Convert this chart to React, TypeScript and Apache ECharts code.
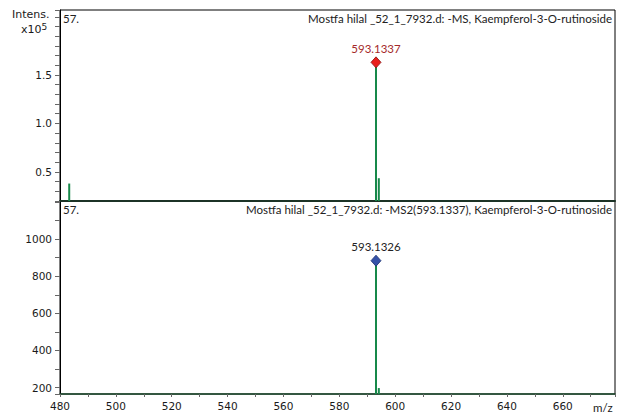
import React, { useEffect, useRef } from "react";
import * as echarts from "echarts";

// Full MS scan (top panel): m/z and intensity of each centroid stick
const msMz = [483.3, 593.1337, 594.14];
const msIntensity = [38000, 163000, 43500];
// MS2 scan of 593.1337 (bottom panel)
const ms2Mz = [593.1326, 594.14];
const ms2Intensity = [884, 197];

// Annotated peaks (diamond + m/z label)
const msLabelMz = [593.1337];
const msLabelIntensity = [163000];
const ms2LabelMz = [593.1326];
const ms2LabelIntensity = [884];

// Axis ranges and labelled ticks
const mzMin = 480;
const mzMax = 678.7;
const mzTickLabels = [480, 500, 520, 540, 560, 580, 600, 620, 640, 660];
const msYMin = 20000;
const msYMax = 217000;
const msTickLabels = [50000, 100000, 150000];
const ms2YMin = 165;
const ms2YMax = 1206;
const ms2TickLabels = [200, 400, 600, 800, 1000];

const titleMs = "Mostfa hilal _52_1_7932.d: -MS, Kaempferol-3-O-rutinoside";
const titleMs2 = "Mostfa hilal _52_1_7932.d: -MS2(593.1337), Kaempferol-3-O-rutinoside";

const STICK = "#17894a";
const TICK_FONT = "DejaVu Sans";
const TITLE_FONT = "Lato";
const TITLE_SIZE = 11.5;

function stickSeries(axis: number, mz: number[], inten: number[], base: number) {
  return {
    type: "custom",
    xAxisIndex: axis,
    yAxisIndex: axis,
    clip: true,
    z: 2,
    data: mz.map((m, i) => [m, inten[i]]),
    renderItem: (_params: any, api: any) => {
      const top = api.coord([api.value(0), api.value(1)]);
      const bottom = api.coord([api.value(0), base]);
      return {
        type: "line",
        shape: { x1: top[0], y1: top[1], x2: bottom[0], y2: bottom[1] },
        style: { stroke: STICK, lineWidth: 2 },
      };
    },
  };
}

function markerSeries(axis: number, mz: number[], inten: number[], fill: string, border: string, labelColor: string) {
  return {
    type: "scatter",
    xAxisIndex: axis,
    yAxisIndex: axis,
    z: 3,
    symbol: "diamond",
    symbolSize: [10, 11],
    data: mz.map((m, i) => [m, inten[i]]),
    itemStyle: { color: fill, borderColor: border, borderWidth: 0.8, opacity: 1 },
    label: {
      show: true,
      position: "top",
      distance: 2,
      formatter: (p: any) => p.value[0].toFixed(4),
      color: labelColor,
      fontSize: TITLE_SIZE,
      fontFamily: TITLE_FONT,
    },
  };
}

export default function App() {
  const ref = useRef<HTMLDivElement>(null);

  useEffect(() => {
    if (!ref.current) return;
    const chart = echarts.init(ref.current, undefined, { renderer: "svg" });

    const yAxisCommon = {
      type: "value",
      splitLine: { show: false },
      axisLine: { show: true, lineStyle: { color: "#000", width: 1 } },
      axisTick: { show: true, length: 5, lineStyle: { color: "#666" } },
    };

    chart.setOption({
      animation: false,
      backgroundColor: "#fff",
      grid: [
        { left: 60, top: 10, width: 555, height: 191, show: true, borderColor: "#000", borderWidth: 1 },
        { left: 60, top: 201, width: 555, height: 193, show: true, borderColor: "#000", borderWidth: 1 },
      ],
      xAxis: [
        {
          gridIndex: 0,
          type: "value",
          min: mzMin,
          max: mzMax,
          interval: 10,
          axisLabel: { show: false },
          axisTick: { show: false },
          splitLine: { show: false },
          axisLine: { lineStyle: { color: "#1c3326", width: 2 } },
        },
        {
          gridIndex: 1,
          type: "value",
          min: mzMin,
          max: mzMax,
          interval: 10,
          splitLine: { show: false },
          axisLine: { lineStyle: { color: "#1b4a2c", width: 1.5 } },
          axisTick: { length: 3, lineStyle: { color: "#666" } },
          axisLabel: {
            margin: 6,
            color: "#1a1a1a",
            fontSize: 10.5,
            fontFamily: TICK_FONT,
            formatter: (v: number) => (mzTickLabels.includes(v) ? String(v) : ""),
          },
        },
      ],
      yAxis: [
        {
          ...yAxisCommon,
          gridIndex: 0,
          min: msYMin,
          max: msYMax,
          interval: 10000,
          axisLabel: {
            margin: 8,
            color: "#1a1a1a",
            fontSize: 10.5,
            fontFamily: TICK_FONT,
            formatter: (v: number) => (msTickLabels.includes(v) ? (v / 1e5).toFixed(1) : ""),
          },
        },
        {
          ...yAxisCommon,
          gridIndex: 1,
          min: ms2YMin,
          max: ms2YMax,
          splitNumber: 10,
          axisLabel: {
            margin: 8,
            color: "#1a1a1a",
            fontSize: 10.5,
            fontFamily: TICK_FONT,
            formatter: (v: number) => (ms2TickLabels.includes(v) ? String(v) : ""),
          },
        },
      ],
      series: [
        stickSeries(0, msMz, msIntensity, msYMin),
        stickSeries(1, ms2Mz, ms2Intensity, ms2YMin),
        markerSeries(0, msLabelMz, msLabelIntensity, "#e8201c", "#8a1010", "#a52a2a"),
        markerSeries(1, ms2LabelMz, ms2LabelIntensity, "#3552a8", "#1c2f70", "#222"),
      ],
      graphic: [
        {
          type: "text",
          left: 12,
          top: 9,
          style: { text: "Intens.", fill: "#1a1a1a", fontSize: 11, fontFamily: TICK_FONT },
        },
        {
          type: "text",
          left: 21,
          top: 22,
          style: {
            text: "x10{sup|5}",
            fill: "#1a1a1a",
            fontSize: 11,
            fontFamily: TICK_FONT,
            rich: { sup: { fontSize: 9, fontFamily: TICK_FONT, fill: "#1a1a1a", verticalAlign: "top", padding: [0, 0, 6, 0] } },
          },
        },
        {
          type: "text",
          left: 63,
          top: 12,
          style: { text: "57.", fill: "#222", fontSize: TITLE_SIZE, fontFamily: TITLE_FONT },
        },
        {
          type: "text",
          left: 63,
          top: 203,
          style: { text: "57.", fill: "#222", fontSize: TITLE_SIZE, fontFamily: TITLE_FONT },
        },
        {
          type: "text",
          right: 9,
          top: 12,
          style: { text: titleMs, fill: "#222", fontSize: TITLE_SIZE, fontFamily: TITLE_FONT },
        },
        {
          type: "text",
          right: 9,
          top: 203,
          style: { text: titleMs2, fill: "#222", fontSize: TITLE_SIZE, fontFamily: TITLE_FONT },
        },
        {
          type: "text",
          left: 593,
          top: 401,
          style: { text: "m/z", fill: "#222", fontSize: TITLE_SIZE, fontFamily: TITLE_FONT },
        },
      ],
    });

    return () => chart.dispose();
  }, []);

  return (
    <div
      ref={ref}
      style={{ position: "fixed", left: 0, top: 0, width: 621, height: 419, background: "#fff" }}
    />
  );
}
